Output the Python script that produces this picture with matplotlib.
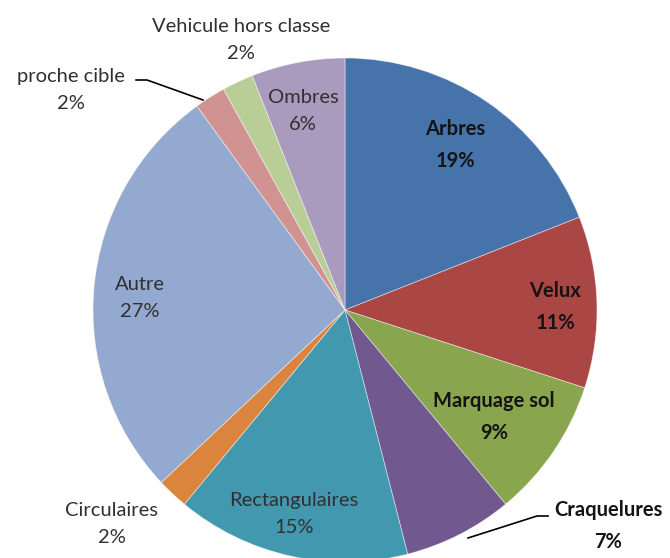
import matplotlib
matplotlib.use("Agg")
import matplotlib.pyplot as plt

categories = ["Arbres", "Velux", "Marquage sol", "Craquelures", "Rectangulaires",
              "Circulaires", "Autre", "proche cible", "Vehicule hors classe", "Ombres"]
percent = [19, 11, 9, 7, 15, 2, 27, 2, 2, 6]
colors = ["#4674AA", "#AA4643", "#89A54E", "#71588F", "#4198AF",
          "#DB843D", "#93A9CF", "#D19392", "#B9CD96", "#A99BBD"]
bold = [True, True, True, True, False, False, False, False, False, False]

# label anchor positions in figure pixels (x, y from top)
label_pos = [(455, 145), (555, 307), (494, 417), (608, 526), (294, 514),
             (112, 524), (140, 298), (71, 90), (241, 40), (303, 111)]

W, H = 670, 558
fig = plt.figure(figsize=(W / 100, H / 100), dpi=100)
ax = fig.add_axes([0, 0, 1, 1])

cx, cy, r = 345, H - 310, 252
ax.pie(percent, colors=colors, startangle=90, counterclock=False,
       center=(cx, cy), radius=r, frame=True,
       wedgeprops=dict(edgecolor=(1, 1, 1, 0.5), linewidth=0.6))
ax.set_xlim(0, W)
ax.set_ylim(0, H)
ax.set_aspect("equal")
ax.axis("off")

for name, p, (x, y), b in zip(categories, percent, label_pos, bold):
    ax.text(x, H - y, f"{name}\n{p}%", ha="center", va="center",
            fontsize=14.5, family="Lato", fontweight="bold" if b else "normal",
            color="#141414" if b else "#303030", linespacing=1.7)

# leader lines
ax.plot([548, 537, 468], [H - 516, H - 516, H - 538], color="black", lw=1.2)
ax.plot([136, 147, 203], [H - 80, H - 80, H - 100], color="black", lw=1.2)

fig.savefig("out.png", dpi=100)
